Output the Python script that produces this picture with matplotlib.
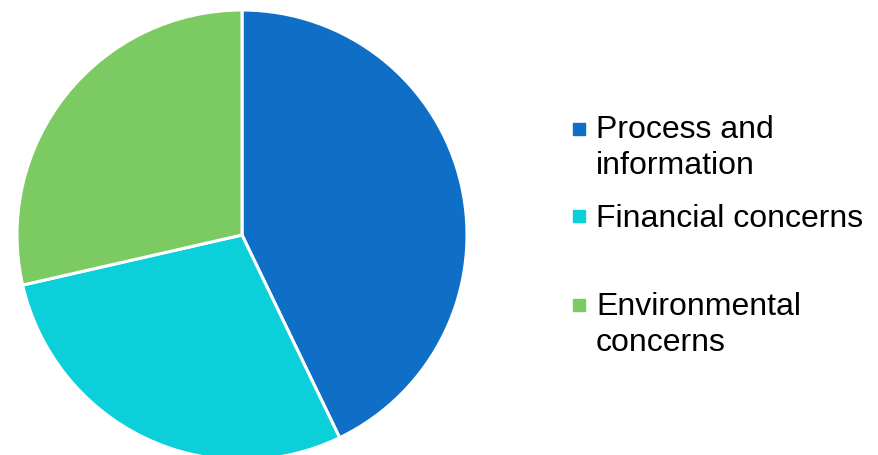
import matplotlib.pyplot as plt
import matplotlib.patches as mpatches

# slice values and legend text
labels = ['Process and\ninformation', 'Financial concerns', 'Environmental\nconcerns']
values = [3, 2, 2]
colors = ['#0F6FC6', '#0BD0D9', '#7CCA62']

W, H = 879, 455
fig = plt.figure(figsize=(W / 100, H / 100), dpi=100)
plt.rcParams['font.family'] = ['Liberation Sans', 'DejaVu Sans']

# pie centre ~ (242, 235) px, radius ~225 px
cx, cy, r = 242, 235, 225
ax = fig.add_axes([(cx - r) / W, (H - cy - r) / H, 2 * r / W, 2 * r / H])
ax.pie(values, colors=colors, startangle=90, counterclock=False,
       wedgeprops=dict(edgecolor='white', linewidth=2.2))
ax.set_xlim(-1, 1)
ax.set_ylim(-1, 1)
ax.set_aspect('equal')
ax.axis('off')

# legend drawn by hand (uneven spacing in the reference)
marker_y = [129, 216, 305]
text_base = [138, 227, 315]
line_gap = 36
for lab, col, my, ty in zip(labels, colors, marker_y, text_base):
    s = 12
    fig.patches.append(mpatches.Rectangle(((579 - s / 2) / W, (H - my - s / 2) / H),
                                          s / W, s / H, color=col,
                                          transform=fig.transFigure))
    for i, line in enumerate(lab.split('\n')):
        fig.text(596 / W, (H - ty - i * line_gap) / H, line, fontsize=23,
                 va='baseline', ha='left', color='black')

fig.savefig('out.png', dpi=100)
